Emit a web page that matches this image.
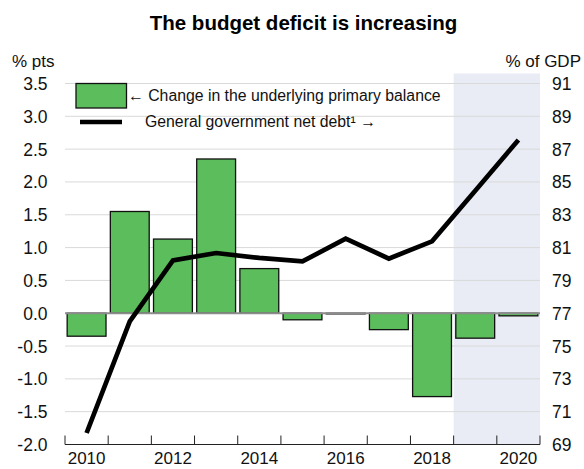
<!DOCTYPE html>
<html>
<head>
<meta charset="utf-8">
<script src="https://cdn.jsdelivr.net/npm/d3@7"></script>
<style>
  body { margin: 0; background: #fff; }
  svg { font-family: "Liberation Sans", Arial, sans-serif; }
</style>
</head>
<body>
<div id="chart"></div>
<script>
// Chart data
const years = [2010, 2011, 2012, 2013, 2014, 2015, 2016, 2017, 2018, 2019, 2020];
const primaryBalance = [-0.35, 1.55, 1.13, 2.35, 0.68, -0.1, -0.01, -0.25, -1.27, -0.38, -0.04];
const netDebt = [69.7, 76.5, 80.22, 80.67, 80.37, 80.16, 81.54, 80.33, 81.38, 84.47, 87.56];
const leftTicks = [-2.0, -1.5, -1.0, -0.5, 0.0, 0.5, 1.0, 1.5, 2.0, 2.5, 3.0, 3.5];
const rightTicks = [69, 71, 73, 75, 77, 79, 81, 83, 85, 87, 89, 91];
const yearLabels = [2010, 2012, 2014, 2016, 2018, 2020];
const projectionYears = [2019, 2020];

function createChart() {
  const width = 584,
    height = 469;
  const margin = { top: 83.5, right: 44, bottom: 24.5, left: 65 };

  const svg = d3
    .select("#chart")
    .append("svg")
    .attr("width", width)
    .attr("height", height);

  const x = d3
    .scaleBand()
    .domain(years)
    .range([margin.left, width - margin.right])
    .paddingInner(0.1)
    .paddingOuter(0.05);

  const yLeft = d3
    .scaleLinear()
    .domain([-2, 3.5])
    .range([height - margin.bottom, margin.top]);

  const yRight = d3
    .scaleLinear()
    .domain([69, 91])
    .range([height - margin.bottom, margin.top]);

  const step = x.step();
  const edge = (year) => x(year) - step * x.paddingInner() / 2;
  const center = (year) => x(year) + x.bandwidth() / 2;

  // Projection shading
  const shadeX0 = edge(projectionYears[0]);
  svg
    .append("rect")
    .attr("x", shadeX0)
    .attr("y", margin.top - 10)
    .attr("width", width - margin.right - shadeX0)
    .attr("height", height - margin.bottom - margin.top + 10)
    .attr("fill", "#e9ecf5");

  // Gridlines
  svg
    .append("g")
    .selectAll("line")
    .data(leftTicks.filter((d) => d !== -2 && d !== 0))
    .enter()
    .append("line")
    .attr("x1", margin.left)
    .attr("x2", width - margin.right)
    .attr("y1", (d) => yLeft(d))
    .attr("y2", (d) => yLeft(d))
    .attr("stroke", "#d9d9d9")
    .attr("stroke-width", 1);

  // Bars
  svg
    .selectAll(".bar")
    .data(years.map((year, i) => ({ year, value: primaryBalance[i] })))
    .enter()
    .append("rect")
    .attr("class", "bar")
    .attr("x", (d) => x(d.year))
    .attr("y", (d) => yLeft(Math.max(0, d.value)))
    .attr("width", x.bandwidth())
    .attr("height", (d) => Math.abs(yLeft(d.value) - yLeft(0)))
    .attr("fill", "#5bbd5b")
    .attr("stroke", "#111")
    .attr("stroke-width", 1.3);

  // Zero line
  svg
    .append("line")
    .attr("x1", margin.left)
    .attr("x2", width - margin.right)
    .attr("y1", yLeft(0))
    .attr("y2", yLeft(0))
    .attr("stroke", "#8c8c8c")
    .attr("stroke-width", 2);

  // Debt line
  const line = d3
    .line()
    .x((d, i) => center(years[i]))
    .y((d) => yRight(d));

  svg
    .append("path")
    .datum(netDebt)
    .attr("d", line)
    .attr("fill", "none")
    .attr("stroke", "#000")
    .attr("stroke-width", 4.7);

  // Bottom axis with inward ticks at band edges
  const axisY = height - margin.bottom;
  svg
    .append("line")
    .attr("x1", margin.left)
    .attr("x2", width - margin.right)
    .attr("y1", axisY)
    .attr("y2", axisY)
    .attr("stroke", "#222")
    .attr("stroke-width", 1);

  const edges = years.map(edge);
  edges.push(width - margin.right);
  svg
    .append("g")
    .selectAll("line")
    .data(edges)
    .enter()
    .append("line")
    .attr("x1", (d) => d)
    .attr("x2", (d) => d)
    .attr("y1", axisY)
    .attr("y2", axisY - 9)
    .attr("stroke", "#222")
    .attr("stroke-width", 1);

  svg
    .append("g")
    .selectAll("text")
    .data(yearLabels)
    .enter()
    .append("text")
    .attr("x", (d) => center(d))
    .attr("y", axisY + 19.5)
    .attr("text-anchor", "middle")
    .attr("font-size", 17)
    .attr("fill", "#111")
    .text((d) => d);

  // Left and right tick labels
  svg
    .append("g")
    .selectAll("text")
    .data(leftTicks)
    .enter()
    .append("text")
    .attr("x", 47.5)
    .attr("y", (d) => yLeft(d) + 6.5)
    .attr("text-anchor", "end")
    .attr("font-size", 17.5)
    .attr("fill", "#111")
    .text((d) => d.toFixed(1));

  svg
    .append("g")
    .selectAll("text")
    .data(rightTicks)
    .enter()
    .append("text")
    .attr("x", 552)
    .attr("y", (d) => yRight(d) + 6.5)
    .attr("font-size", 17.5)
    .attr("fill", "#111")
    .text((d) => d);

  // Title and axis units
  svg
    .append("text")
    .attr("x", 303.5)
    .attr("y", 30)
    .attr("text-anchor", "middle")
    .attr("font-size", 20.5)
    .attr("font-weight", "bold")
    .attr("fill", "#000")
    .text("The budget deficit is increasing");

  svg
    .append("text")
    .attr("x", 12)
    .attr("y", 67)
    .attr("font-size", 17)
    .attr("fill", "#111")
    .text("% pts");

  svg
    .append("text")
    .attr("x", 581)
    .attr("y", 67)
    .attr("text-anchor", "end")
    .attr("font-size", 17)
    .attr("fill", "#111")
    .text("% of GDP");

  // Legend
  const legend = svg.append("g");
  legend
    .append("rect")
    .attr("x", 76)
    .attr("y", 83.5)
    .attr("width", 50.5)
    .attr("height", 24.5)
    .attr("fill", "#5bbd5b")
    .attr("stroke", "#111")
    .attr("stroke-width", 1.3);
  legend
    .append("text")
    .attr("x", 128)
    .attr("y", 101)
    .attr("font-size", 15.8)
    .attr("fill", "#111")
    .text("← Change in the underlying primary balance");
  legend
    .append("line")
    .attr("x1", 80)
    .attr("x2", 122)
    .attr("y1", 122)
    .attr("y2", 122)
    .attr("stroke", "#000")
    .attr("stroke-width", 4.5);
  legend
    .append("text")
    .attr("x", 145)
    .attr("y", 127)
    .attr("font-size", 15.8)
    .attr("fill", "#111")
    .text("General government net debt¹ →");
}

createChart();
</script>
</body>
</html>
